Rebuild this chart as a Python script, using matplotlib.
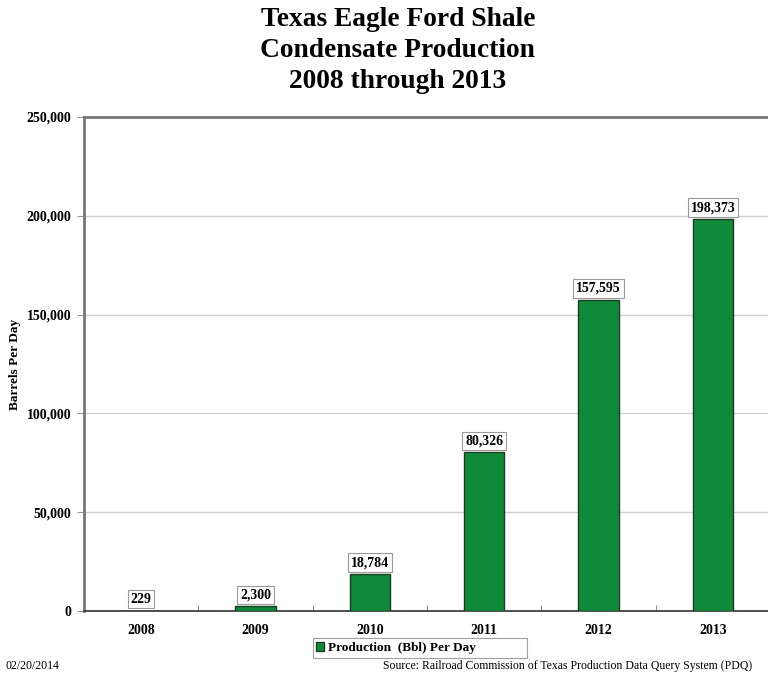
import matplotlib.pyplot as plt
from matplotlib.ticker import FuncFormatter

years = ["2008", "2009", "2010", "2011", "2012", "2013"]
production = [229, 2300, 18784, 80326, 157595, 198373]

plt.rcParams['font.family'] = ['Liberation Serif', 'DejaVu Serif']
plt.rcParams['font.weight'] = 'bold'

fig = plt.figure(figsize=(7.68, 6.8), dpi=100)
ax = fig.add_axes([84 / 768, 69 / 680, 686 / 768, 494 / 680])

x = range(len(years))
bars = ax.bar(x, production, width=0.35, color='#0f8a38', edgecolor='#1d3b22',
              linewidth=1.0, zorder=3, label='Production  (Bbl) Per Day')

for xi, v in zip(x, production):
    ax.annotate(f"{v:,}", (xi, v), xytext=(0, 3.5), textcoords='offset points',
                ha='center', va='bottom', fontsize=10, fontweight='bold',
                bbox=dict(boxstyle='square,pad=0.2', fc='white', ec='#9a9a9a', lw=0.8),
                zorder=5)

ax.set_xlim(-0.5, len(years) - 0.5)
ax.set_ylim(0, 250000)
ax.set_yticks(range(0, 250001, 50000))
ax.yaxis.set_major_formatter(FuncFormatter(lambda v, p: f"{int(v):,}"))
ax.set_xticks(list(x))
ax.set_xticklabels(years)
ax.set_xticks([i + 0.5 for i in range(len(years) - 1)], minor=True)
ax.tick_params(axis='x', which='major', length=0, pad=9, labelsize=10)
ax.tick_params(axis='x', which='minor', length=4, direction='in', color='#777777')
ax.tick_params(axis='y', length=5, color='#999999', pad=4, labelsize=10)
for lab in ax.get_xticklabels() + ax.get_yticklabels():
    lab.set_fontweight('bold')

ax.grid(axis='y', color='#d0d0d0', linewidth=1.0, zorder=0)
ax.spines['left'].set_color('#777777')
ax.spines['left'].set_linewidth(2)
ax.spines['top'].set_color('#777777')
ax.spines['top'].set_linewidth(2)
ax.spines['bottom'].set_color('#333333')
ax.spines['bottom'].set_linewidth(1.2)
ax.spines['right'].set_visible(False)

ax.set_ylabel('Barrels Per Day', fontsize=9.5, fontweight='bold', labelpad=4)

fig.text(0.518, 0.99, "Texas Eagle Ford Shale\nCondensate Production\n2008 through 2013",
         ha='center', va='top', fontsize=19.8, fontweight='bold', linespacing=1.32)

leg = fig.legend(loc='center', bbox_to_anchor=(420 / 768, 1 - 648 / 680), ncol=1,
                 fontsize=9.5, frameon=True, fancybox=False, edgecolor='#888888',
                 handlelength=0.6, handleheight=0.6, handletextpad=0.3,
                 borderpad=0.3, borderaxespad=0)
leg.get_frame().set_linewidth(0.8)
for t in leg.get_texts():
    t.set_fontweight('bold')
    t.set_text('Production  (Bbl) Per Day              ')

fig.text(5 / 768, 1 - 666 / 680, "02/20/2014", ha='left', va='center', fontsize=8.5, fontweight='normal')
fig.text(752 / 768, 1 - 666 / 680, "Source: Railroad Commission of Texas Production Data Query System (PDQ)",
         ha='right', va='center', fontsize=8.5, fontweight='normal')

fig.savefig('out.png', dpi=100)
plt.close(fig)
